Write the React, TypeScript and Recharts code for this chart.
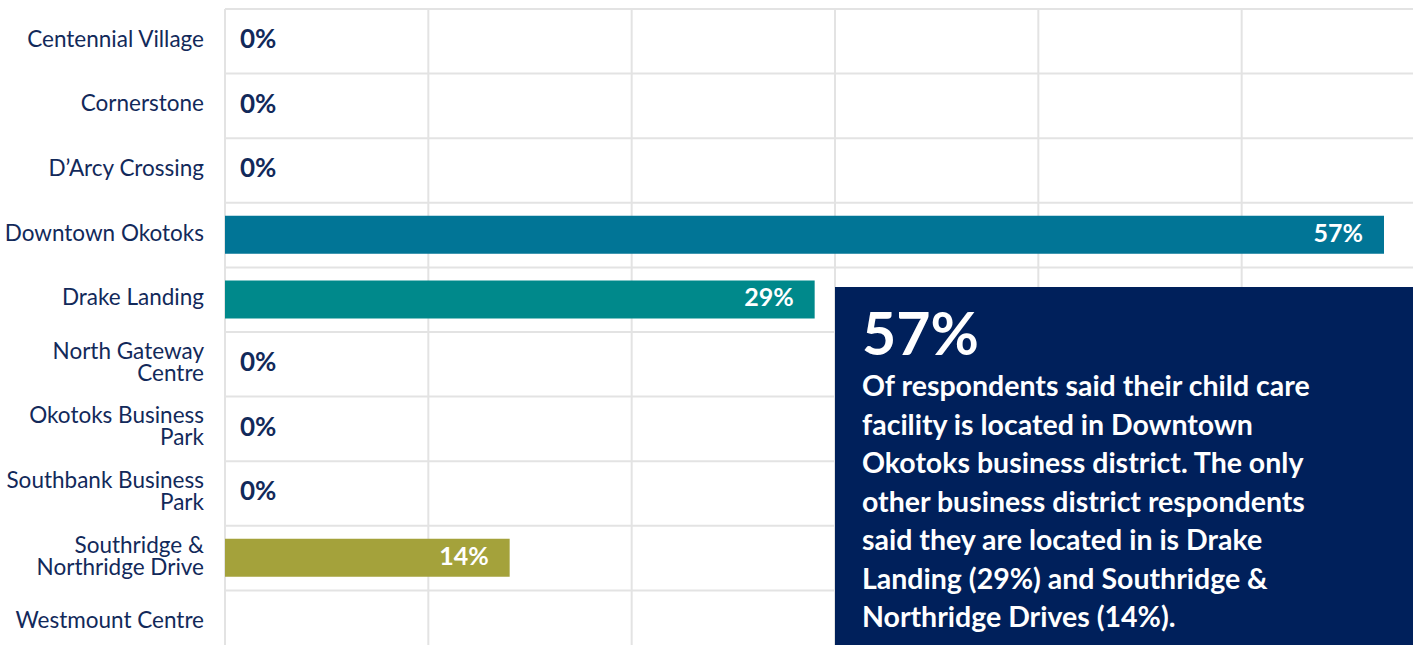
import React from 'react';
import { BarChart, Bar, XAxis, YAxis, CartesianGrid, Cell, LabelList } from 'recharts';

const categories = [
  'Centennial Village',
  'Cornerstone',
  'D\u2019Arcy Crossing',
  'Downtown Okotoks',
  'Drake Landing',
  'North Gateway\nCentre',
  'Okotoks Business\nPark',
  'Southbank Business\nPark',
  'Southridge &\nNorthridge Drive',
  'Westmount Centre',
];
const values: (number | null)[] = [0, 0, 0, 57, 29, 0, 0, 0, 14, null];
const barColors = ['#017596', '#017596', '#017596', '#017596', '#00898b', '#017596', '#017596', '#017596', '#a4a23b', '#017596'];
const xTicks = [0, 10, 20, 30, 40, 50, 60];

const NAVY = '#12295a';
const FONT = 'Lato, "Noto Sans", sans-serif';

const data = categories.map((c, i) => ({ name: c, value: values[i] }));

const CategoryTick = (props: any) => {
  const { x, y, payload } = props;
  const lines = String(payload.value).split('\n');
  const lh = 22;
  const start = -((lines.length - 1) * lh) / 2 - 3;
  return (
    <text x={x} y={y} textAnchor="end" fill={NAVY} fontFamily={FONT} fontSize={22.5}>
      {lines.map((l, i) => (
        <tspan key={i} x={x} y={y + start + i * lh} dominantBaseline="central">
          {l}
        </tspan>
      ))}
    </text>
  );
};

const ValueLabel = (props: any) => {
  const { x, y, width, height, value } = props;
  if (value === null || value === undefined) return null;
  const cy = y + height / 2 - 3;
  if (value === 0) {
    return (
      <text x={x + 15} y={cy} textAnchor="start" dominantBaseline="central" fill={NAVY} fontFamily={FONT} fontWeight={700} fontSize={26}>
        {value}%
      </text>
    );
  }
  return (
    <text x={x + width - 21} y={cy} textAnchor="end" dominantBaseline="central" fill="#ffffff" fontFamily={FONT} fontWeight={700} fontSize={25}>
      {value}%
    </text>
  );
};

export default function App() {
  return (
    <div style={{ position: 'relative', width: 1413, height: 645, overflow: 'hidden', fontFamily: FONT }}>
      <style>{`body{margin:0;overflow:hidden;}`}</style>
      <BarChart
        width={1445}
        height={655}
        data={data}
        layout="vertical"
        margin={{ top: 9, right: 0, bottom: 0, left: 0 }}
        barSize={38}
      >
        <CartesianGrid
          stroke="#e3e3e3"
          strokeWidth={2}
          horizontalCoordinatesGenerator={({ offset }: any) =>
            categories.map((_, i) => offset.top + (i * offset.height) / categories.length).concat(offset.top + offset.height)
          }
        />
        <XAxis type="number" domain={[0, 60]} ticks={xTicks} hide />
        <YAxis
          type="category"
          dataKey="name"
          width={225}
          axisLine={false}
          tickLine={false}
          tickSize={0}
          tickMargin={21}
          interval={0}
          tick={<CategoryTick />}
        />
        <Bar dataKey="value" isAnimationActive={false} minPointSize={1}>
          {data.map((d, i) => (
            <Cell key={d.name} fill={d.value ? barColors[i] : 'transparent'} />
          ))}
          <LabelList dataKey="value" content={<ValueLabel />} />
        </Bar>
      </BarChart>
      <div
        style={{
          position: 'absolute',
          left: 835,
          top: 287,
          width: 578,
          height: 360,
          background: '#00205b',
          color: '#ffffff',
          boxSizing: 'border-box',
          padding: '14px 0 0 27px',
        }}
      >
        <div style={{ fontSize: 59, fontWeight: 700, lineHeight: '64px' }}>57%</div>
        <div style={{ width: 462, fontSize: 28.5, fontWeight: 700, lineHeight: '38.5px', marginTop: 1 }}>
          Of respondents said their child care facility is located in Downtown Okotoks business district. The only other
          business district respondents said they are located in is Drake Landing (29%) and Southridge &amp; Northridge
          Drives (14%).
        </div>
      </div>
    </div>
  );
}
